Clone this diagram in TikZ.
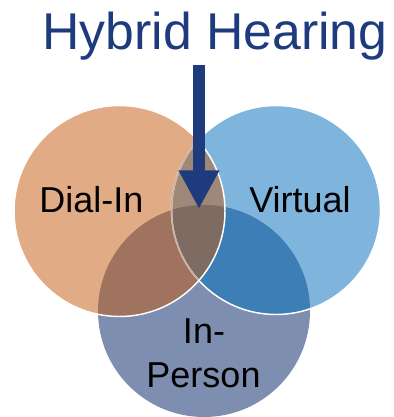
\documentclass[tikz,border=0pt]{standalone}
\usepackage{fontspec}
\setmainfont{Liberation Sans}
\usetikzlibrary{arrows.meta}

\definecolor{dialin}{HTML}{E1AB85}
\definecolor{virtual}{HTML}{7FB5DD}
\definecolor{inperson}{HTML}{7E8EB0}
\definecolor{dialvirt}{HTML}{A08878}
\definecolor{dialpers}{HTML}{A0735E}
\definecolor{virtpers}{HTML}{3E7EB7}
\definecolor{allthree}{HTML}{7E6B62}
\definecolor{faintrim}{HTML}{C8B2A4}
\definecolor{hearblue}{HTML}{1D3B7D}

\begin{document}
\begin{tikzpicture}[x=0.75pt,y=0.75pt,
	rim/.style={draw=white, line width=1.1pt},
	label/.style={inner sep=0pt, anchor=base, font=\fontsize{27pt}{30pt}\selectfont},
	pointer/.style={hearblue, line width=9pt,
		-{Triangle[width=28.5pt,length=29pt]}}]

	% ---- parameters

	\def\rD{105.5}
	\def\rV{104.5}
	\def\rP{106}

	% ---- frame

	\useasboundingbox (0,0) rectangle (393,-417);

	% ---- coordinates

	\coordinate (D) at (119.5,-211);
	\coordinate (V) at (276,-210);
	\coordinate (P) at (204,-311);

	% ---- circles

	\fill[virtual] (V) circle (\rV);
	\fill[inperson] (P) circle (\rP);
	\fill[dialin] (D) circle (\rD);

	% ---- overlaps

	\begin{scope}
		\clip (V) circle (\rV);
		\fill[virtpers] (P) circle (\rP);
	\end{scope}
	\begin{scope}
		\clip (D) circle (\rD);
		\fill[dialvirt] (V) circle (\rV);
		\fill[dialpers] (P) circle (\rP);
		\clip (V) circle (\rV);
		\fill[allthree] (P) circle (\rP);
	\end{scope}

	% ---- rims

	\draw[rim] (V) circle (\rV);
	\begin{scope}
		\clip (D) circle (\rD);
		\draw[rim, draw=faintrim] (V) circle (\rV);
	\end{scope}
	\draw[rim] (D) circle (\rD);

	% ---- labels

	\node[inner sep=0pt, anchor=base, text=hearblue,
		font=\fontsize{38.8pt}{42pt}\selectfont] (title) at (215,-50) {Hybrid Hearing};

	\node[label] (dialinlbl) at (91.5,-212) {Dial-In};
	\node[label] (virtuallbl) at (300,-212) {Virtual};
	\node[label] (inlbl) at (204,-343) {In-};
	\node[label] (personlbl) at (203.5,-387) {Person};

	% ---- arrow

	\coordinate (arrowtop) at (199,-65);
	\coordinate (arrowtip) at (199,-209);
	\draw[pointer] (arrowtop) -- (arrowtip);

\end{tikzpicture}
\end{document}
